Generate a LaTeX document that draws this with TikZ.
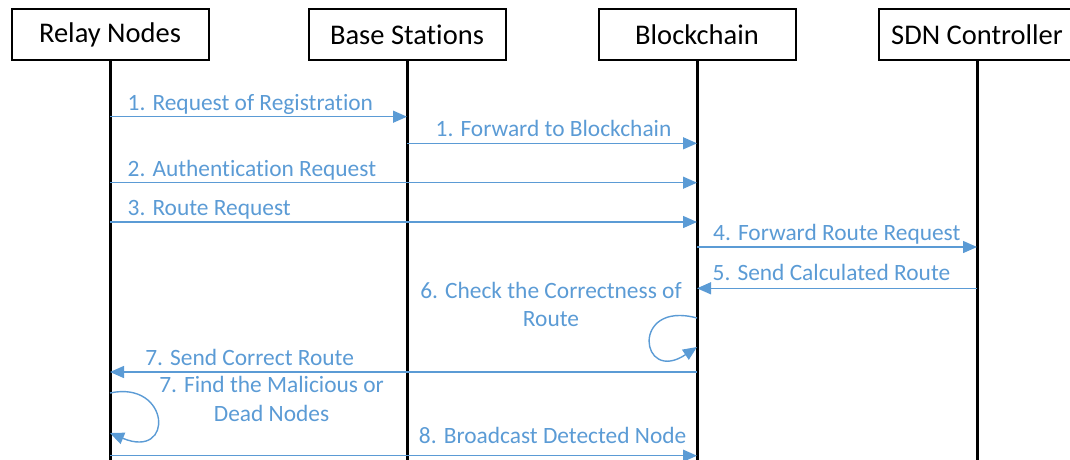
\documentclass[tikz,border=0pt]{standalone}
\usepackage{fontspec}
\setmainfont{Carlito}[Ligatures=NoCommon]
\usetikzlibrary{arrows.meta}
\usetikzlibrary{positioning}

\definecolor{msgblue}{HTML}{5B9BD5}

\begin{document}
\begin{tikzpicture}[x=1pt,y=-1pt,
  actor/.style={draw,line width=2pt,minimum width=197pt,minimum height=51pt,inner sep=0pt,font=\fontsize{28.5}{32}\selectfont},
  life/.style={line width=3pt},
  msg/.style={draw=msgblue,line width=1.4pt,-{Triangle[length=14pt,width=12pt]}},
  lbl/.style={text=msgblue,inner sep=0pt,font=\fontsize{23.4}{28.4}\selectfont}]
  \useasboundingbox (0,0) rectangle (1070,459);

  \node[actor] (relay) at (110,34.5) {Relay Nodes};
  \node[actor] (base) at (407,34.5) {Base Stations};
  \node[actor] (chain) at (697,34.5) {Blockchain};
  \node[actor] (sdn) at (977,34.5) {SDN Controller};

  % lifelines
  \coordinate (relayend) at (110,470);
  \coordinate (baseend) at (407,470);
  \coordinate (chainend) at (697,470);
  \coordinate (sdnend) at (977,470);
  \draw[life] (relay) -- (relayend);
  \draw[life] (base) -- (baseend);
  \draw[life] (chain) -- (chainend);
  \draw[life] (sdn) -- (sdnend);

  % message ends
  \coordinate (r1) at (110,116.7);  \coordinate (b1) at (407,116.7);
  \coordinate (b2) at (407,143.3);  \coordinate (c2) at (697,143.3);
  \coordinate (r3) at (110,182.7);  \coordinate (c3) at (697,182.7);
  \coordinate (r4) at (110,222);    \coordinate (c4) at (697,222);
  \coordinate (c5) at (697,247);    \coordinate (s5) at (977,247);
  \coordinate (s6) at (977,288.3);  \coordinate (c6) at (697,288.3);
  \coordinate (c7a) at (697,318);   \coordinate (c7b) at (697,347);
  \coordinate (c8) at (697,372);    \coordinate (r8) at (110,372);
  \coordinate (r9a) at (110,393);   \coordinate (r9b) at (110,433);
  \coordinate (r10) at (110,455.7); \coordinate (c10) at (697,455.7);

  \draw[msg] (r1) -- (b1) node[lbl,pos=0,anchor=base west,xshift=17pt,yshift=6.7pt] (m1) {1. Request of Registration};
  \draw[msg] (b2) -- (c2) node[lbl,pos=0,anchor=base west,xshift=28pt,yshift=6.7pt] (m1b) {1. Forward to Blockchain};
  \draw[msg] (r3) -- (c3) node[lbl,pos=0,anchor=base west,xshift=17pt,yshift=6.7pt] (m2) {2. Authentication Request};
  \draw[msg] (r4) -- (c4) node[lbl,pos=0,anchor=base west,xshift=17pt,yshift=6.7pt] (m3) {3. Route Request};
  \draw[msg] (c5) -- (s5) node[lbl,pos=0,anchor=base west,xshift=15.5pt,yshift=6.7pt] (m4) {4. Forward Route Request};
  \draw[msg] (s6) -- (c6) node[lbl,pos=1,anchor=base west,xshift=15pt,yshift=7.6pt] (m5) {5. Send Calculated Route};
  \draw[msg] (c7a) .. controls (630,300) and (640,385) .. (c7b)
    node[lbl,pos=0,align=center,anchor=base,xshift=-146pt,yshift=-8.7pt] (m6) {6. Check the Correctness of\\Route};
  \draw[msg] (c8) -- (r8) node[lbl,pos=1,anchor=base west,xshift=34.6pt,yshift=7pt] (m7) {7. Send Correct Route};
  \draw[msg] (r9a) .. controls (170,380) and (175,460) .. (r9b)
    node[lbl,pos=0,align=center,anchor=base,xshift=161.6pt,yshift=-28pt] (m7b) {7. Find the Malicious or\\Dead Nodes};
  \draw[msg] (r10) -- (c10) node[lbl,pos=1,anchor=base east,xshift=-10pt,yshift=12.7pt] (m8) {8. Broadcast Detected Node};
\end{tikzpicture}
\end{document}
